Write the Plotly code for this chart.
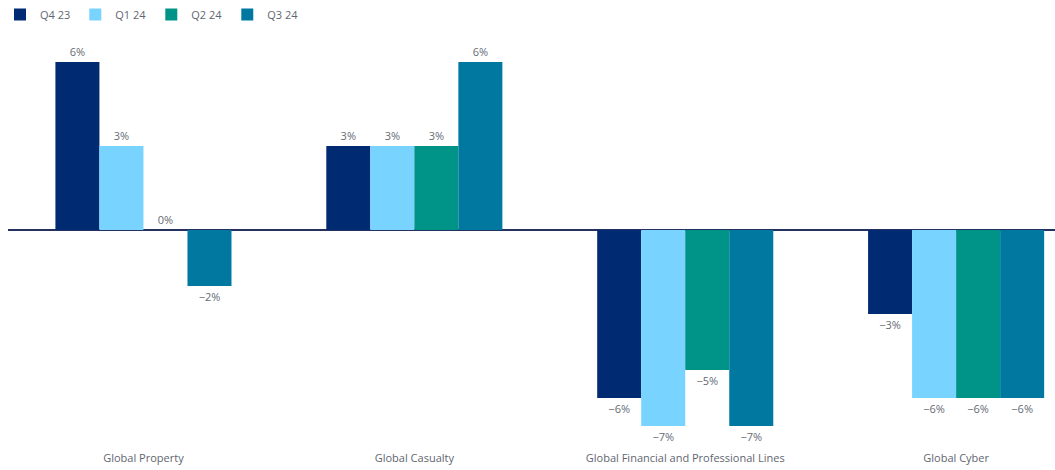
import plotly.graph_objects as go

categories = ["Global Property", "Global Casualty", "Global Financial and Professional Lines", "Global Cyber"]
series_names = ["Q4 23", "Q1 24", "Q2 24", "Q3 24"]
q4_23 = [6, 3, -6, -3]
q1_24 = [3, 3, -7, -6]
q2_24 = [0, 3, -5, -6]
q3_24 = [-2, 6, -7, -6]
colors = ["#002B73", "#78D3FF", "#009488", "#0078A0"]

def fmt(v):
    return ("\u2212" if v < 0 else "") + f"{abs(v)}%"

fig = go.Figure()
for name, vals, col in zip(series_names, [q4_23, q1_24, q2_24, q3_24], colors):
    fig.add_trace(go.Bar(
        x=categories, y=vals, name=name, marker=dict(color=col, line=dict(width=0)),
        text=[fmt(v) for v in vals], textposition="outside",
        textfont=dict(family="Open Sans", size=11, color="#666b73"),
        cliponaxis=False,
    ))

fig.update_layout(
    width=1055, height=470,
    margin=dict(l=8, r=0, t=40, b=20),
    paper_bgcolor="white", plot_bgcolor="white",
    barmode="group", bargap=0.35, bargroupgap=0,
    font=dict(family="Open Sans", size=11, color="#5f6670"),
    showlegend=True,
    legend=dict(orientation="h", x=-0.005, xref="container", y=1, yref="container",
                xanchor="left", yanchor="top", font=dict(size=11, color="#5f6670"),
                itemwidth=30, traceorder="normal"),
    xaxis=dict(range=[-0.5, 3.365], showgrid=False, showline=False, zeroline=False,
               ticks="", tickfont=dict(size=11, color="#5f6670")),
    yaxis=dict(range=[-7.857, 6.786], showgrid=False, showticklabels=False,
               zeroline=True, zerolinecolor="#25325f", zerolinewidth=1.5, showline=False),
    uniformtext=dict(minsize=8, mode="show"),
)

fig.write_html("out.html")
